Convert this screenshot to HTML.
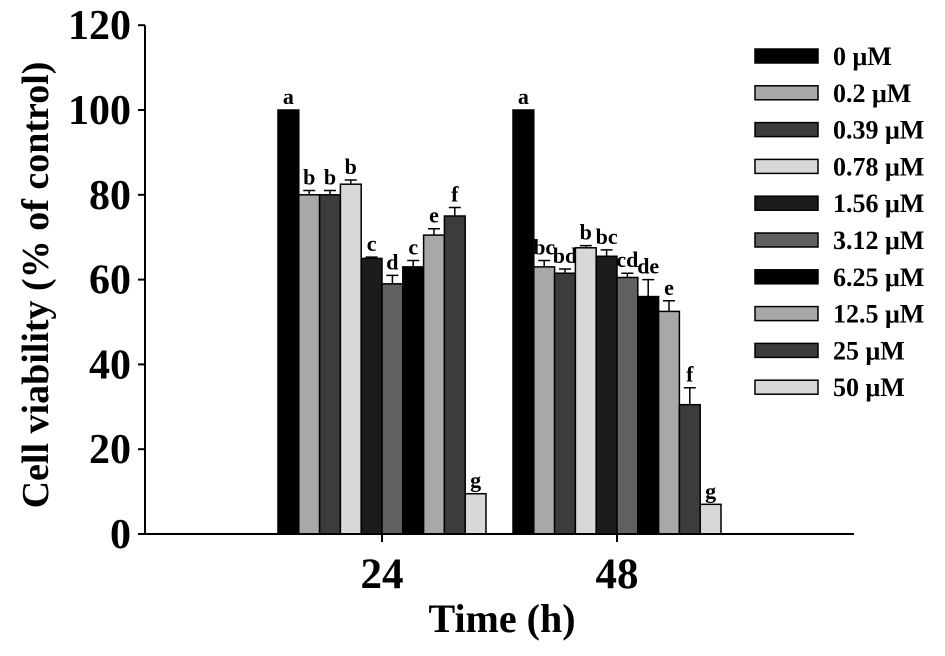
<!DOCTYPE html>
<html><head><meta charset="utf-8"><style>
body{margin:0;background:#fff}
svg text{font-family:"Liberation Serif",serif;font-weight:bold;fill:#000}
</style></head><body>
<svg id="chart" width="945" height="651" viewBox="0 0 945 651" xmlns="http://www.w3.org/2000/svg">
<g id="bars"></g>
<g id="axes"></g>
<g id="legend"></g>
</svg>
<script>
const groups = ["24","48"];
const seriesNames = ["0 μM","0.2 μM","0.39 μM","0.78 μM","1.56 μM","3.12 μM","6.25 μM","12.5 μM","25 μM","50 μM"];
const values24 = [100,80,80,82.5,65,59,63,70.5,75,9.5];
const values48 = [100,63,61.5,67.5,65.5,60.5,56,52.5,30.5,7];
const errors24 = [0,1,1,1,0.3,2,1.5,1.5,2,0];
const errors48 = [0,1.5,1,0.5,1.5,1,4,2.5,4,0];
const letters24 = ["a","b","b","b","c","d","c","e","f","g"];
const letters48 = ["a","bc","bd","b","bc","cd","de","e","f","g"];
const yTicks = [0,20,40,60,80,100,120];
const colors = ["#000","#a8a8a8","#3c3c3c","#d8d8d8","#1c1c1c","#606060","#000","#a8a8a8","#3c3c3c","#d8d8d8"];
const NS="http://www.w3.org/2000/svg";
const y0=534, pxPer=4.24, axL=145, axR=854;
const yS=v=>y0-v*pxPer;
const groupCenters=[382,617], barW=20.8;
function mk(t,a,p){const e=document.createElementNS(NS,t);for(const k in a)e.setAttribute(k,a[k]);p.appendChild(e);return e;}
const bars=document.getElementById('bars'), axes=document.getElementById('axes'), leg=document.getElementById('legend');
const allV=[values24,values48], allE=[errors24,errors48], allL=[letters24,letters48];
groups.forEach((g,gi)=>{
  const start=groupCenters[gi]-barW*seriesNames.length/2;
  allV[gi].forEach((v,i)=>{
    const x=start+i*barW, y=yS(v);
    const r=mk('rect',{x:x,y:y,width:barW,height:y0-y,fill:colors[i],stroke:'#000','stroke-width':1.5},bars);
    
    
    const e=allE[gi][i]; let top=y;
    if(e>0){const ye=yS(v+e);top=ye;
      const l=mk('path',{d:`M${x+barW/2},${y}V${ye}M${x+barW/2-6},${ye}H${x+barW/2+6}`,stroke:'#000','stroke-width':1.5,fill:'none'},bars);
      
      }
    const t=mk('text',{x:x+barW/2,y:top-6,'text-anchor':'middle','font-size':22},bars);
    t.textContent=allL[gi][i];
    
    
  });
  const tk=mk('line',{x1:groupCenters[gi],x2:groupCenters[gi],y1:y0,y2:y0+8,stroke:'#000','stroke-width':2},axes);
  
  
  const tl=mk('text',{x:groupCenters[gi],y:588,'text-anchor':'middle','font-size':43},axes);
  tl.textContent=g;
  
  
});
const ax=mk('path',{d:`M${axL},${yS(120)}V${y0}H${axR}`,stroke:'#000','stroke-width':2,fill:'none'},axes);


yTicks.forEach(v=>{
  const l=mk('line',{x1:axL-7,x2:axL,y1:yS(v),y2:yS(v),stroke:'#000','stroke-width':2},axes);
  
  
  const t=mk('text',{x:131,y:yS(v)+14,'text-anchor':'end','font-size':42},axes);
  t.textContent=v;
  
  
});
const yt=mk('text',{x:0,y:0,'text-anchor':'middle','font-size':38,transform:'translate(48,285) rotate(-90)'},axes);
yt.textContent='Cell viability (% of control)';


const xt=mk('text',{x:502,y:632,'text-anchor':'middle','font-size':40},axes);
xt.textContent='Time (h)';


seriesNames.forEach((n,i)=>{
  const cy=56+i*36.8;
  const r=mk('rect',{x:755,y:cy-7,width:63,height:14,fill:colors[i],stroke:'#000','stroke-width':1.5},leg);
  
  
  const t=mk('text',{x:833,y:cy+9,'font-size':26},leg);
  t.textContent=n;
  
  
});
</script>
</body></html>
